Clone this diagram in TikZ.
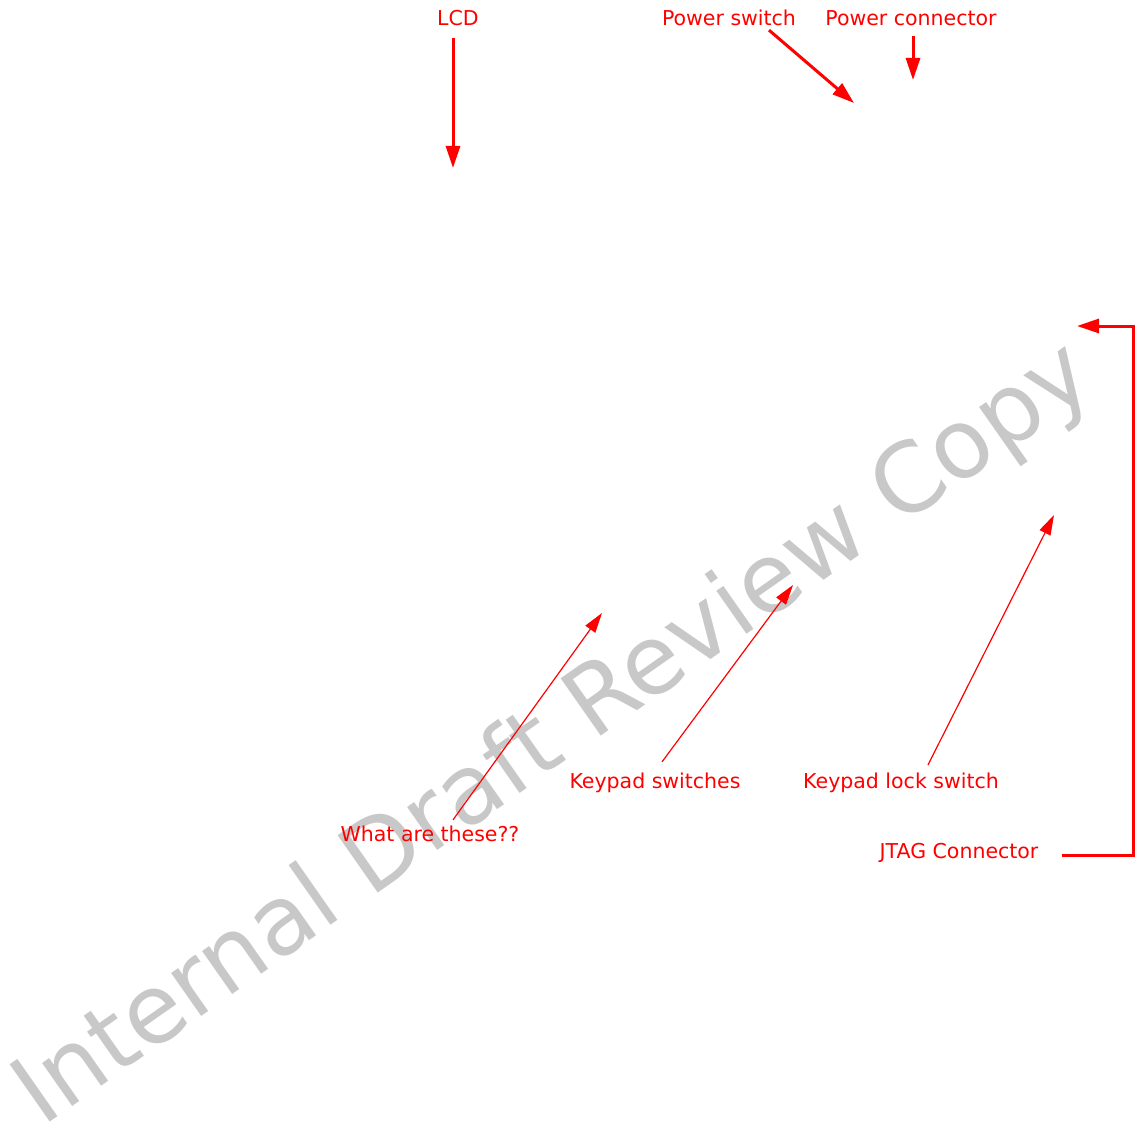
\documentclass[tikz,border=0pt]{standalone}
\usepackage{fontspec}
\setmainfont{DejaVu Sans}
\usepackage{xcolor}
\definecolor{notered}{RGB}{255,0,0}
\definecolor{wmgray}{RGB}{200,200,200}
\usetikzlibrary{arrows.meta, positioning, calc}

\begin{document}
\begin{tikzpicture}[x=1pt, y=-1pt,
    note/.style={font=\fontsize{20.5}{23}\selectfont, text=notered, inner sep=2pt},
    bigarrow/.style={-{Triangle[length=22pt, width=14pt]}, notered, line width=3pt},
    thinarrow/.style={-{Triangle[length=20pt, width=12pt]}, notered, line width=1.2pt}]

\useasboundingbox (0,0) rectangle (1135,1129);

% --- Watermark ---
\node[font=\fontsize{96}{110}\selectfont, text=wmgray, rotate=35, anchor=base west,
      inner sep=0pt] (watermark) at (42,1128) {Internal Draft Review Copy};

% --- Labels ---
\node[note] (lcd) at (458,18) {LCD};
\node[note] (pwrsw) at (729,18) {Power switch};
\node[note] (pwrcon) at (911,18) {Power connector};
\node[note] (keysw) at (655,783) {Keypad switches};
\node[note] (keylock) at (901,783) {Keypad lock switch};
\node[note] (what) at (430,834) {What are these??};
\node[note] (jtag) at (959,853) {JTAG Connector};

% --- Arrow targets ---
\coordinate (lcd-tgt) at (453,168);
\coordinate (pwrsw-tgt) at (854,103);
\coordinate (pwrcon-tgt) at (913,80);
\coordinate (jtag-corner) at (1133,855);
\coordinate (jtag-tgt) at (1077,326);
\coordinate (what-tgt) at (602,613);
\coordinate (keysw-tgt) at (793,585);
\coordinate (keylock-tgt) at (1054,515);

% --- Arrows ---
\draw[bigarrow] ([xshift=-5pt,yshift=-10pt]lcd.south) -- (lcd-tgt);
\draw[bigarrow] ([xshift=40pt,yshift=-2pt]pwrsw.south) -- (pwrsw-tgt);
\draw[bigarrow] ([xshift=2pt,yshift=-8pt]pwrcon.south) -- (pwrcon-tgt);
\draw[bigarrow] ([xshift=21pt,yshift=-2pt]jtag.east) -- (jtag-corner) |- (jtag-tgt);
\draw[thinarrow] ([xshift=23pt,yshift=4pt]what.north) -- (what-tgt);
\draw[thinarrow] ([xshift=7pt,yshift=9pt]keysw.north) -- (keysw-tgt);
\draw[thinarrow] ([xshift=27pt,yshift=6pt]keylock.north) -- (keylock-tgt);

\end{tikzpicture}
\end{document}
